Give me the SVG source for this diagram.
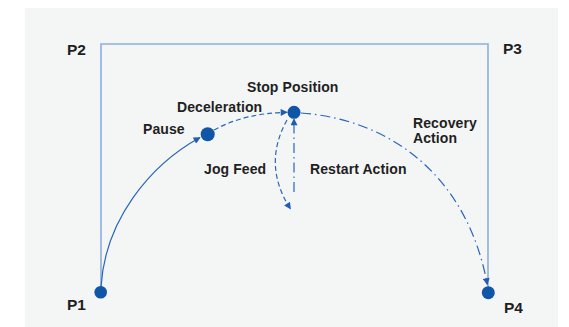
<svg xmlns="http://www.w3.org/2000/svg" width="569" height="327" viewBox="0 0 569 327">
<style>
.lbl{font-family:"Liberation Sans",Arial,sans-serif;font-weight:700;fill:#1f1f1f;font-size:14px;letter-spacing:0.1px}
.pt{font-family:"Liberation Sans",Arial,sans-serif;font-weight:700;fill:#1f1f1f;font-size:15.5px}
.frame{fill:none;stroke:#8cb0dc;stroke-width:1.6}
.dot{fill:#0f55a8}
.conn{fill:none;stroke:#2866bd;stroke-width:1.2}
.dash{stroke-dasharray:5 3}
.dashdot{stroke-dasharray:10 4 1.5 4}
</style>
<defs>
<marker id="arr" viewBox="0 0 10 10" refX="9" refY="5" markerWidth="8" markerHeight="7" markerUnits="userSpaceOnUse" orient="auto">
<path d="M0,0 L10,5 L0,10 z" fill="#1f5db5"/>
</marker>
</defs>
<rect x="25" y="8" width="533" height="319" fill="#f4f5f5"/>
<g id="frame">
<path class="frame" d="M101,292 V44 H488 V292"/>
</g>
<g id="connectors">
<path class="conn" d="M101,287 C105,220 150,165 200,137.5" marker-end="url(#arr)"/>
<path class="conn dash" d="M214,130 Q245,113 287,112.3" marker-end="url(#arr)"/>
<path class="conn dashdot" d="M301,113 C395,120 468,180 487.3,284.5" marker-end="url(#arr)"/>
<path class="conn dash" d="M287,120 Q262,165 290.5,209" marker-end="url(#arr)"/>
<path class="conn dashdot" d="M294,192 V119" marker-end="url(#arr)"/>
</g>
<g id="P1"><circle class="dot" cx="100.7" cy="292.3" r="6.3"/><text class="pt" x="67" y="310">P1</text></g>
<g id="P2"><text class="pt" x="67" y="55">P2</text></g>
<g id="P3"><text class="pt" x="503" y="53.5">P3</text></g>
<g id="P4"><circle class="dot" cx="488.3" cy="292.7" r="6.5"/><text class="pt" x="504" y="312.5">P4</text></g>
<g id="pause"><circle class="dot" cx="207.7" cy="134.3" r="7"/><text class="lbl" x="143" y="134">Pause</text></g>
<g id="stop"><circle class="dot" cx="294" cy="112.3" r="6.5"/><text class="lbl" x="247" y="92">Stop Position</text></g>
<g id="deceleration"><text class="lbl" x="177" y="111.5">Deceleration</text></g>
<g id="jogfeed"><text class="lbl" x="204" y="174">Jog Feed</text></g>
<g id="restart"><text class="lbl" x="310" y="173.5">Restart Action</text></g>
<g id="recovery"><text class="lbl" x="413" y="127.5">Recovery</text><text class="lbl" x="413" y="142.5">Action</text></g>
</svg>
